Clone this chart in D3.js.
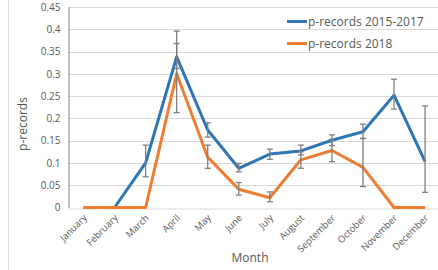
<!DOCTYPE html>
<html>
<head>
<meta charset="utf-8">
<script src="https://cdn.jsdelivr.net/npm/d3@7"></script>
<style>
  body { margin: 0; background: #fff; }
  text { font-family: "Open Sans", "Liberation Sans", sans-serif; fill: #595959; }
</style>
</head>
<body>
<div id="canvas"></div>
<script>
// data
var months = ["January", "February", "March", "April", "May", "June", "July",
  "August", "September", "October", "November", "December"];
var yTicks = [0, 0.05, 0.1, 0.15, 0.2, 0.25, 0.3, 0.35, 0.4, 0.45];

var recs1517    = [0, 0, 0.1, 0.338, 0.174, 0.088, 0.12, 0.127, 0.151, 0.17, 0.252, 0.103];
var errUp1517   = [0, 0, 0.04, 0.03, 0.016, 0.011, 0.011, 0.013, 0.012, 0.017, 0.036, 0.125];
var errDown1517 = [0, 0, 0.031, 0.026, 0.016, 0.008, 0.012, 0.009, 0.012, 0.015, 0.031, 0.069];
var recs2018    = [0, 0, 0, 0.30, 0.113, 0.041, 0.022, 0.107, 0.128, 0.09, 0, 0];
var errUp2018   = [0, 0, 0, 0.096, 0.027, 0.015, 0.013, 0.018, 0.025, 0.065, 0, 0];
var errDown2018 = [0, 0, 0, 0.087, 0.025, 0.013, 0.009, 0.019, 0.025, 0.043, 0, 0];

var series = [
  {name: "p-records 2015-2017", values: recs1517, up: errUp1517, down: errDown1517, color: "#2e75b6"},
  {name: "p-records 2018", values: recs2018, up: errUp2018, down: errDown2018, color: "#ed7d31"}
];

var width = 438, height = 270;
var margin = {top: 7, left: 68, bottom: 62.5};
var plotRight = 440.6;

var svg = d3.select("#canvas")
  .append("svg")
  .attr("width", width)
  .attr("height", height);

// chart frame left edge
svg.append("line")
  .attr("x1", 8.5).attr("x2", 8.5)
  .attr("y1", 0).attr("y2", height)
  .style("stroke", "#d9d9d9");

var x = d3.scaleBand()
  .domain(months)
  .range([margin.left, plotRight]);
var cx = function(m) { return x(m) + x.bandwidth() / 2; };

var y = d3.scaleLinear()
  .domain([0, 0.45])
  .range([height - margin.bottom, margin.top]);

// gridlines
svg.append("g")
  .selectAll("line")
  .data(yTicks.filter(function(d) { return d > 0; }))
  .enter()
  .append("line")
    .attr("x1", margin.left).attr("x2", plotRight)
    .attr("y1", function(d) { return Math.round(y(d)) + 0.5; })
    .attr("y2", function(d) { return Math.round(y(d)) + 0.5; })
    .style("stroke", "#d9d9d9");

// Y axis
var yAxis = svg.append("g")
  .attr("transform", "translate(" + (margin.left + 0.5) + ",0)")
  .call(d3.axisLeft(y).tickValues(yTicks).tickSize(0).tickPadding(8)
    .tickFormat(function(d) { return d3.format("")(+d.toFixed(2)); }));
yAxis.select(".domain").style("stroke", "#868686");
yAxis.selectAll("text").style("font-size", "10px").style("fill", "#595959");

// X axis
var xAxis = svg.append("g")
  .attr("transform", "translate(0," + (Math.round(y(0)) + 0.5) + ")")
  .call(d3.axisBottom(x).tickSize(0).tickPadding(0));
xAxis.select(".domain").style("stroke", "#d9d9d9");
xAxis.selectAll("text")
  .style("font-size", "9.5px")
  .style("fill", "#595959")
  .attr("text-anchor", "end")
  .attr("dy", "0")
  .attr("transform", "translate(4,10) rotate(-45)");

// axis titles
svg.append("text")
  .attr("x", 250).attr("y", 262)
  .attr("text-anchor", "middle")
  .style("font-size", "12px")
  .text("Month");
svg.append("text")
  .attr("transform", "translate(27,124) rotate(-90)")
  .attr("text-anchor", "middle")
  .style("font-size", "12px")
  .text("p-records");

var line = d3.line()
  .x(function(d, i) { return cx(months[i]); })
  .y(function(d) { return y(d); });

// lines
series.forEach(function(s) {
  svg.append("path")
    .datum(s.values)
    .attr("d", line)
    .style("fill", "none")
    .style("stroke", s.color)
    .style("stroke-width", 3)
    .style("stroke-linejoin", "round");
});

// error bars
series.forEach(function(s) {
  var bars = s.values.map(function(v, i) {
    return {m: months[i], top: v + s.up[i], bot: v - s.down[i], has: s.up[i] + s.down[i] > 0};
  }).filter(function(d) { return d.has; });
  var g = svg.append("g").style("stroke", "#7f7f7f").style("stroke-width", 1.3);
  g.selectAll(".bar").data(bars).enter().append("line")
    .attr("x1", function(d) { return cx(d.m); })
    .attr("x2", function(d) { return cx(d.m); })
    .attr("y1", function(d) { return y(d.top); })
    .attr("y2", function(d) { return y(d.bot); });
  ["top", "bot"].forEach(function(k) {
    g.selectAll(".cap").data(bars).enter().append("line")
      .attr("x1", function(d) { return cx(d.m) - 3; })
      .attr("x2", function(d) { return cx(d.m) + 3; })
      .attr("y1", function(d) { return y(d[k]); })
      .attr("y2", function(d) { return y(d[k]); });
  });
});

// legend
var legend = svg.append("g")
  .selectAll("g")
  .data(series)
  .enter()
  .append("g")
  .attr("transform", function(d, i) { return "translate(287," + (21.5 + i * 22) + ")"; });
legend.append("line")
  .attr("x1", 0).attr("x2", 20)
  .style("stroke", function(d) { return d.color; })
  .style("stroke-width", 3);
legend.append("text")
  .attr("x", 21).attr("y", 4.5)
  .style("font-size", "12px")
  .text(function(d) { return d.name; });
</script>
</body>
</html>
